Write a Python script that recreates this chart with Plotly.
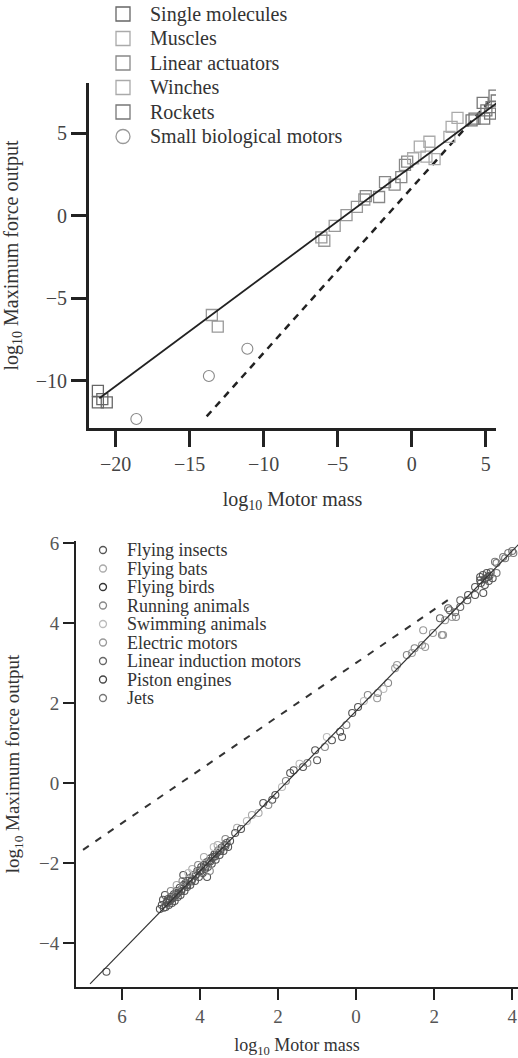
import plotly.graph_objects as go

W, H = 518, 1058
FONT = "Liberation Serif, Times New Roman, serif"

# ---------------- Top chart data (log10 mass, log10 max force) ----------------
single_x = [-21.2, -21.2, -20.9, -20.6]
single_y = [-10.6, -11.3, -11.1, -11.3]
muscle_x = [-13.5, -13.1, -6.1, -5.9, -5.2, -4.4, -3.7, -3.2]
muscle_y = [-6.0, -6.7, -1.3, -1.5, -0.6, 0.05, 0.55, 1.0]
actuator_x = [-3.1, -2.2, -1.8, -1.15, -0.7, -0.45, -0.3]
actuator_y = [1.2, 1.15, 2.05, 1.9, 2.35, 3.1, 3.3]
winch_x = [0.1, 0.55, 1.0, 1.2, 1.55, 2.55, 2.7, 3.1]
winch_y = [3.5, 4.2, 3.6, 4.5, 3.45, 4.8, 5.4, 5.95]
rocket_x = [4.05, 4.25, 4.8, 4.9, 5.05, 5.3, 5.4, 5.6, 5.75]
rocket_y = [5.8, 5.9, 6.85, 5.9, 6.4, 6.2, 6.6, 7.3, 7.0]
smallbio_x = [-18.6, -13.7, -11.1]
smallbio_y = [-12.3, -9.7, -8.05]

top_fit_x = [-21.1, 5.8]
top_fit_y = [-11.05, 6.87]
top_dash_x = [-13.85, 5.3]
top_dash_y = [-12.15, 7.0]

top_xticks = [-20, -15, -10, -5, 0, 5]
top_yticks = [5, 0, -5, -10]

# ---------------- Bottom chart data ----------------
insect_x = [-6.4, -5.03, -4.98, -4.95, -4.9, -4.88, -4.85, -4.82, -4.8, -4.77, -4.75, -4.72,
            -4.7, -4.67, -4.65, -4.62, -4.6, -4.57, -4.55, -4.52, -4.5, -4.47, -4.43, -4.42,
            -4.4, -4.37, -4.33, -4.3, -4.27, -4.25, -4.2, -4.17, -4.13, -4.1, -4.07, -4.03,
            -4.0, -3.97, -3.93, -3.9, -3.87, -3.83, -3.82, -3.8, -3.77, -3.73, -3.7, -3.67,
            -3.63, -3.6, -3.57, -3.53, -3.5, -3.45, -3.4, -3.37, -3.32, -3.28, -3.23,
            -4.93, -4.86, -4.78, -4.69, -4.58, -4.48, -4.35, -4.22, -4.12, -3.98, -3.86,
            -3.74, -3.62, -3.48, -3.35]
insect_y = [-4.72, -3.15, -3.05, -2.92, -2.8, -3.1, -3.0, -2.9, -3.05, -2.95, -2.85, -3.0,
            -2.88, -2.78, -2.95, -2.8, -2.7, -2.85, -2.72, -2.62, -2.8, -2.65, -2.3, -2.55,
            -2.7, -2.5, -2.6, -2.45, -2.38, -2.55, -2.4, -2.3, -2.45, -2.28, -2.2, -2.35,
            -2.18, -2.1, -2.25, -2.05, -2.15, -1.98, -2.35, -2.1, -1.95, -1.88, -2.02, -1.85,
            -1.78, -1.92, -1.75, -1.68, -1.8, -1.62, -1.7, -1.55, -1.5, -1.6, -1.45,
            -3.12, -2.98, -2.92, -2.84, -2.76, -2.7, -2.56, -2.46, -2.32, -2.2, -2.08,
            -1.96, -1.84, -1.7, -1.58]
bat_x = [-4.6, -4.2, -3.9, -3.55, -3.05, -2.67, -2.5]
bat_y = [-2.55, -2.15, -1.85, -1.55, -1.12, -0.8, -0.75]
bird_x = [-3.1, -2.95, -2.38, -2.15, -2.07, -1.69, -1.6, -1.36, -1.05, -1.0, -0.62, -0.41,
          -0.36, -0.1, 0.05]
bird_y = [-1.25, -1.15, -0.5, -0.42, -0.3, 0.25, 0.32, 0.4, 0.82, 0.57, 1.07, 1.28,
          1.15, 1.75, 1.9]
running_x = [-4.75, -4.45, -4.05, -3.75, -3.35, -2.25, -1.8, -1.25, -0.8, -0.25, 0.3, 0.56,
             0.82, 1.3, 1.5, 2.2, 2.56]
running_y = [-2.7, -2.45, -2.05, -2.2, -1.4, -0.55, 0.05, 0.5, 0.9, 1.45, 2.2, 2.25,
             2.5, 3.2, 3.37, 3.7, 4.15]
swim_x = [-4.3, -3.65, -2.8, -1.9, -1.45, -0.75, 0.2, 0.7]
swim_y = [-2.25, -1.6, -0.95, -0.1, 0.48, 1.15, 2.05, 2.35]
electric_x = [0.54, 1.0, 1.05, 1.43, 1.69, 1.72, 1.77, 1.97, 2.23, 2.28, 2.46]
electric_y = [2.12, 2.87, 2.95, 3.25, 3.45, 3.82, 3.4, 3.75, 3.7, 4.07, 4.15]
induction_x = [2.15, 2.36, 2.4, 2.54, 2.67, 2.67, 2.85]
induction_y = [4.12, 4.37, 4.32, 4.27, 4.4, 4.57, 4.57]
piston_x = [2.87, 3.05, 3.05, 3.18, 3.18, 3.2, 3.25, 3.26, 3.3, 3.35, 3.4, 3.42, 3.45, 3.5,
            3.3, 3.38]
piston_y = [4.7, 4.7, 4.9, 5.07, 5.15, 5.0, 5.2, 4.75, 5.1, 5.25, 5.05, 5.18, 5.27, 5.12,
            4.95, 5.15]
jet_x = [3.56, 3.6, 3.6, 3.77, 3.82, 3.9, 4.0, 4.03]
jet_y = [5.53, 5.25, 5.5, 5.65, 5.62, 5.75, 5.8, 5.75]

bot_fit_x = [-6.82, 4.3]
bot_fit_y = [-5.02, 6.1]
bot_dash_x = [-7.0, 2.5]
bot_dash_y = [-1.67, 4.67]

bot_xticks = [-6, -4, -2, 0, 2, 4]
bot_xticktext = ["6", "4", "2", "0", "2", "4"]
bot_yticks = [6, 4, 2, 0, -2, -4]

# ---------------- Figure ----------------
fig = go.Figure()

def sq(x, y, color, ax):
    fig.add_trace(go.Scatter(x=x, y=y, mode="markers", xaxis="x" + ax, yaxis="y" + ax,
                             marker=dict(symbol="square-open", size=11, color=color,
                                         line=dict(width=1.3, color=color)),
                             showlegend=False, hoverinfo="skip"))

def circ(x, y, color, ax, size=7):
    fig.add_trace(go.Scatter(x=x, y=y, mode="markers", xaxis="x" + ax, yaxis="y" + ax,
                             marker=dict(symbol="circle-open", size=size, color=color,
                                         line=dict(width=1.1, color=color)),
                             showlegend=False, hoverinfo="skip"))

# top chart
fig.add_trace(go.Scatter(x=top_dash_x, y=top_dash_y, mode="lines", xaxis="x", yaxis="y",
                         line=dict(color="#222", width=2.5, dash="7px,6px"),
                         showlegend=False, hoverinfo="skip"))
sq(single_x, single_y, "#666", "")
sq(muscle_x, muscle_y, "#999", "")
sq(actuator_x, actuator_y, "#888", "")
sq(winch_x, winch_y, "#aaa", "")
sq(rocket_x, rocket_y, "#777", "")
circ(smallbio_x, smallbio_y, "#888", "", size=11)
fig.add_trace(go.Scatter(x=top_fit_x, y=top_fit_y, mode="lines", xaxis="x", yaxis="y",
                         line=dict(color="#222", width=1.8),
                         showlegend=False, hoverinfo="skip"))

# bottom chart
fig.add_trace(go.Scatter(x=bot_dash_x, y=bot_dash_y, mode="lines", xaxis="x2", yaxis="y2",
                         line=dict(color="#333", width=2, dash="7px,8px"),
                         showlegend=False, hoverinfo="skip"))
circ(insect_x, insect_y, "#555", "2")
circ(bat_x, bat_y, "#aaa", "2")
circ(bird_x, bird_y, "#555", "2")
circ(running_x, running_y, "#888", "2")
circ(swim_x, swim_y, "#bbb", "2")
circ(electric_x, electric_y, "#999", "2")
circ(induction_x, induction_y, "#666", "2")
circ(piston_x, piston_y, "#555", "2")
circ(jet_x, jet_y, "#777", "2")
fig.add_trace(go.Scatter(x=bot_fit_x, y=bot_fit_y, mode="lines", xaxis="x2", yaxis="y2",
                         line=dict(color="#333", width=1.2),
                         showlegend=False, hoverinfo="skip"))

def px(xp):
    return xp / W

def py(yp):
    return 1 - yp / H

axis_common = dict(showgrid=False, zeroline=False, showline=True, linecolor="#222",
                   ticks="outside", tickcolor="#222", automargin=False,
                   tickfont=dict(family=FONT, color="#444"))

fig.update_layout(
    width=W, height=H, margin=dict(l=0, r=0, t=0, b=0),
    template="none", paper_bgcolor="white", plot_bgcolor="white",
    showlegend=False,
    xaxis=dict(axis_common, domain=[px(89), px(496)], range=[-21.8, 5.7], anchor="y",
               tickvals=top_xticks, ticklen=16, tickwidth=3, linewidth=3,
               tickfont=dict(family=FONT, size=20, color="#444"),
               title=dict(text="log<sub>10</sub> Motor mass", standoff=18,
                          font=dict(family=FONT, size=20, color="#333"))),
    yaxis=dict(axis_common, domain=[py(428), py(83)], range=[-12.85, 8.06], anchor="x",
               tickvals=top_yticks, ticklen=15, tickwidth=3, linewidth=3,
               tickfont=dict(family=FONT, size=20, color="#444"),
               title=dict(text="log<sub>10</sub> Maximum force output", standoff=12,
                          font=dict(family=FONT, size=20, color="#333"))),
    xaxis2=dict(axis_common, domain=[px(76), 1.0], range=[-7.18, 4.15], anchor="y2",
                tickvals=bot_xticks, ticktext=bot_xticktext, ticklen=11, tickwidth=2,
                linewidth=2, tickfont=dict(family=FONT, size=19, color="#555"),
                title=dict(text="log<sub>10</sub> Motor mass", standoff=18,
                           font=dict(family=FONT, size=18, color="#333"))),
    yaxis2=dict(axis_common, domain=[py(987), py(541)], range=[-5.1, 6.05], anchor="x2",
                tickvals=bot_yticks, ticklen=11, tickwidth=2, linewidth=2,
                tickfont=dict(family=FONT, size=19, color="#555"),
                title=dict(text="log<sub>10</sub> Maximum force output", standoff=14,
                           font=dict(family=FONT, size=19, color="#333"))),
)

# ---------------- Manual legends ----------------
top_names = ["Single molecules", "Muscles", "Linear actuators", "Winches", "Rockets",
             "Small biological motors"]
top_colors = ["#666", "#aaa", "#888", "#aaa", "#777", "#999"]
top_symbols = ["square", "square", "square", "square", "square", "circle"]
bot_names = ["Flying insects", "Flying bats", "Flying birds", "Running animals",
             "Swimming animals", "Electric motors", "Linear induction motors",
             "Piston engines", "Jets"]
bot_colors = ["#555", "#aaa", "#333", "#888", "#bbb", "#999", "#666", "#444", "#777"]

shapes = []
annotations = []
for i, (name, col, sym) in enumerate(zip(top_names, top_colors, top_symbols)):
    yc = 14 + 24.5 * i
    xc = 123
    s = 7
    shapes.append(dict(type="rect" if sym == "square" else "circle", xref="paper", yref="paper",
                       x0=px(xc - s), x1=px(xc + s), y0=py(yc + s), y1=py(yc - s),
                       line=dict(color=col, width=1.3), fillcolor="rgba(0,0,0,0)"))
    annotations.append(dict(text=name, xref="paper", yref="paper", x=px(148), y=py(yc),
                            xanchor="left", yanchor="middle", showarrow=False,
                            font=dict(family=FONT, size=20, color="#333")))
for i, (name, col) in enumerate(zip(bot_names, bot_colors)):
    yc = 550 + 18.5 * i
    xc = 103
    s = 3.5
    shapes.append(dict(type="circle", xref="paper", yref="paper",
                       x0=px(xc - s), x1=px(xc + s), y0=py(yc + s), y1=py(yc - s),
                       line=dict(color=col, width=1.3), fillcolor="rgba(0,0,0,0)"))
    annotations.append(dict(text=name, xref="paper", yref="paper", x=px(125), y=py(yc),
                            xanchor="left", yanchor="middle", showarrow=False,
                            font=dict(family=FONT, size=18, color="#333")))

fig.update_layout(shapes=shapes, annotations=annotations)
fig.write_html("out.html")
